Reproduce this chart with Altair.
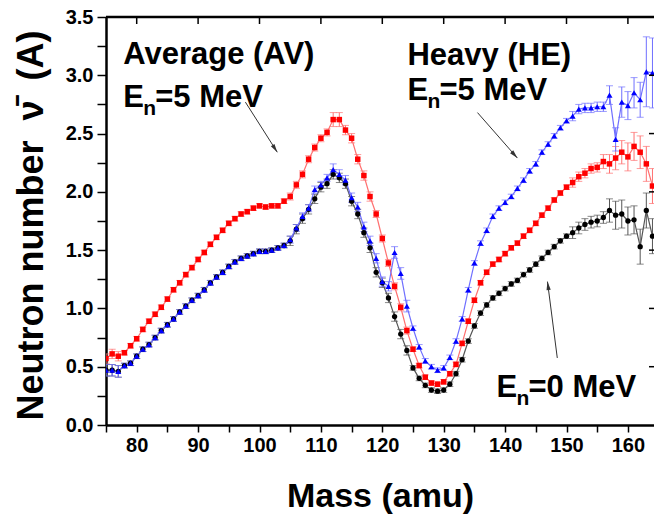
import altair as alt
import pandas as pd

# ---------------- data ----------------
MASS = list(range(75, 165))

RED_AV = [0.57, 0.61, 0.59, 0.62, 0.68, 0.74, 0.82, 0.89, 0.95, 1.01,
          1.08, 1.16, 1.22, 1.29, 1.35, 1.42, 1.48, 1.55, 1.61, 1.67,
          1.73, 1.77, 1.81, 1.83, 1.86, 1.88, 1.87, 1.88, 1.88, 1.92,
          1.96, 2.06, 2.15, 2.28, 2.38, 2.46, 2.51, 2.62, 2.62, 2.53,
          2.46, 2.28, 2.14, 1.96, 1.81, 1.60, 1.39, 1.19, 1.01, 0.81,
          0.65, 0.51, 0.41, 0.36, 0.35, 0.37, 0.44, 0.52, 0.70, 0.89,
          1.07, 1.22, 1.31, 1.38, 1.42, 1.47, 1.52, 1.56, 1.62, 1.67,
          1.73, 1.80, 1.86, 1.93, 1.99, 2.04, 2.08, 2.13, 2.16, 2.20,
          2.21, 2.26, 2.24, 2.29, 2.34, 2.30, 2.39, 2.34, 2.24, 2.05]
RED_ERR = [0.04, 0.04, 0.04, 0.02, 0.02, 0.02, 0.02, 0.02, 0.02, 0.02,
           0.02, 0.02, 0.02, 0.02, 0.02, 0.02, 0.02, 0.02, 0.02, 0.02,
           0.02, 0.02, 0.02, 0.02, 0.02, 0.02, 0.02, 0.02, 0.02, 0.02,
           0.03, 0.03, 0.03, 0.03, 0.03, 0.03, 0.03, 0.06, 0.06, 0.04,
           0.04, 0.04, 0.04, 0.04, 0.03, 0.03, 0.03, 0.03, 0.03, 0.03,
           0.02, 0.02, 0.02, 0.02, 0.02, 0.02, 0.02, 0.02, 0.02, 0.02,
           0.02, 0.02, 0.02, 0.02, 0.02, 0.02, 0.02, 0.02, 0.02, 0.02,
           0.02, 0.02, 0.02, 0.02, 0.02, 0.02, 0.04, 0.04, 0.04, 0.04,
           0.04, 0.06, 0.08, 0.10, 0.10, 0.12, 0.12, 0.14, 0.15, 0.15]

BLUE_HE = [0.47, 0.47, 0.46, 0.51, 0.53, 0.59, 0.65, 0.69, 0.75, 0.81,
           0.86, 0.91, 0.97, 1.02, 1.07, 1.11, 1.16, 1.22, 1.27, 1.31,
           1.36, 1.40, 1.43, 1.45, 1.47, 1.49, 1.49, 1.50, 1.52, 1.54,
           1.59, 1.69, 1.79, 1.86, 2.02, 2.06, 2.12, 2.19, 2.15, 2.10,
           1.95, 1.87, 1.70, 1.58, 1.43, 1.23, 1.19, 1.48, 1.30, 1.02,
           0.83, 0.67, 0.55, 0.50, 0.47, 0.49, 0.58, 0.72, 0.91, 1.16,
           1.39, 1.56, 1.67, 1.79, 1.86, 1.91, 1.96, 2.03, 2.10, 2.18,
           2.24, 2.34, 2.41, 2.48, 2.55, 2.61, 2.65, 2.71, 2.72, 2.72,
           2.73, 2.73, 2.83, 2.45, 2.77, 2.74, 2.85, 2.79, 3.03, 3.02]
BLUE_ERR = [0.05, 0.05, 0.05, 0.02, 0.02, 0.02, 0.02, 0.02, 0.02, 0.02,
            0.02, 0.02, 0.02, 0.02, 0.02, 0.02, 0.02, 0.02, 0.02, 0.02,
            0.02, 0.02, 0.02, 0.02, 0.02, 0.02, 0.02, 0.02, 0.02, 0.02,
            0.03, 0.03, 0.03, 0.03, 0.03, 0.03, 0.03, 0.05, 0.04, 0.04,
            0.04, 0.04, 0.04, 0.04, 0.04, 0.04, 0.04, 0.05, 0.05, 0.05,
            0.02, 0.02, 0.02, 0.02, 0.02, 0.02, 0.02, 0.02, 0.02, 0.02,
            0.02, 0.02, 0.02, 0.02, 0.02, 0.02, 0.02, 0.02, 0.02, 0.02,
            0.02, 0.02, 0.02, 0.02, 0.02, 0.02, 0.04, 0.04, 0.04, 0.04,
            0.04, 0.04, 0.08, 0.10, 0.13, 0.12, 0.13, 0.15, 0.30, 0.30]

BLACK_E0 = [0.47, 0.47, 0.46, 0.51, 0.53, 0.59, 0.65, 0.69, 0.75, 0.81,
            0.86, 0.91, 0.97, 1.02, 1.07, 1.11, 1.16, 1.22, 1.27, 1.31,
            1.36, 1.40, 1.43, 1.45, 1.47, 1.49, 1.49, 1.50, 1.52, 1.54,
            1.58, 1.68, 1.77, 1.85, 1.94, 2.04, 2.07, 2.15, 2.12, 2.07,
            1.92, 1.81, 1.65, 1.52, 1.31, 1.22, 1.09, 0.93, 0.78, 0.64,
            0.49, 0.40, 0.34, 0.30, 0.29, 0.30, 0.35, 0.44, 0.56, 0.72,
            0.85, 0.96, 1.03, 1.09, 1.13, 1.17, 1.21, 1.24, 1.29, 1.33,
            1.38, 1.43, 1.48, 1.53, 1.58, 1.62, 1.65, 1.69, 1.72, 1.74,
            1.75, 1.78, 1.84, 1.80, 1.81, 1.75, 1.76, 1.53, 1.84, 1.62]
BLACK_ERR = [0.05, 0.05, 0.05, 0.02, 0.02, 0.02, 0.02, 0.02, 0.02, 0.02,
             0.02, 0.02, 0.02, 0.02, 0.02, 0.02, 0.02, 0.02, 0.02, 0.02,
             0.02, 0.02, 0.02, 0.02, 0.02, 0.02, 0.02, 0.02, 0.02, 0.02,
             0.04, 0.04, 0.04, 0.04, 0.04, 0.04, 0.04, 0.04, 0.04, 0.04,
             0.04, 0.04, 0.04, 0.04, 0.04, 0.04, 0.04, 0.04, 0.04, 0.04,
             0.02, 0.02, 0.02, 0.02, 0.02, 0.02, 0.02, 0.02, 0.02, 0.02,
             0.02, 0.02, 0.02, 0.02, 0.02, 0.02, 0.02, 0.02, 0.02, 0.02,
             0.02, 0.02, 0.02, 0.02, 0.02, 0.02, 0.05, 0.05, 0.05, 0.05,
             0.05, 0.05, 0.10, 0.12, 0.12, 0.12, 0.12, 0.15, 0.15, 0.15]

X_TICKS = [75, 80, 85, 90, 95, 100, 105, 110, 115, 120, 125, 130, 135,
           140, 145, 150, 155, 160, 165]
X_MAJOR = [80, 90, 100, 110, 120, 130, 140, 150, 160]
Y_TICKS = [0.0, 0.25, 0.5, 0.75, 1.0, 1.25, 1.5, 1.75, 2.0, 2.25, 2.5,
           2.75, 3.0, 3.25, 3.5]
Y_MAJOR = [0.5, 1.0, 1.5, 2.0, 2.5, 3.0]

# annotations (data coordinates)
HEAD_TEXT = ["Average (AV)", "Heavy (HE)"]
HEAD_X = [77.8, 124.1]
HEAD_Y = [3.10, 3.09]
EN_X = [77.8, 124.1, 138.6]
EN_Y = [2.73, 2.79, 0.24]
EN_REST = ["=5 MeV", "=5 MeV", "=0 MeV"]
ARROW_X1 = [97.7, 135.5, 148.5]
ARROW_Y1 = [2.77, 2.68, 0.575]
ARROW_X2 = [102.9, 142.0, 146.9]
ARROW_Y2 = [2.34, 2.29, 1.23]
ARROW_ANGLE = [147, 138, 352]

# ---------------- chart ----------------
W, H = 548, 408
FONT = "Liberation Sans"
XS = alt.Scale(domain=[75, 164.25], nice=False, zero=False)
YS = alt.Scale(domain=[0, 3.5], nice=False, zero=True)

x_axis = alt.Axis(values=X_TICKS,
                  labelExpr="datum.value % 10 === 0 ? format(datum.value, 'd') : ''",
                  tickSize=7, tickWidth=1.5, domainWidth=2.5, grid=False,
                  labelFont=FONT, labelFontSize=20, labelFontWeight="bold",
                  labelPadding=3, labelOverlap=False, labelFlush=False,
                  title="Mass (amu)", titleFont=FONT, titleFontSize=34,
                  titleFontWeight="bold", titleX=W / 2, titleY=81,
                  titleBaseline="alphabetic", titleAlign="center")
y_axis = alt.Axis(values=Y_TICKS,
                  labelExpr="datum.value % 0.5 === 0 ? format(datum.value, '.1f') : ''",
                  tickSize=9, tickWidth=1.5, domainWidth=2.5, grid=False,
                  labelFont=FONT, labelFontSize=20, labelFontWeight="bold",
                  labelPadding=4, labelOverlap=False, labelFlush=False,
                  title="Neutron number\u00a0\u00a0\u03bd\u0304\u00a0\u00a0(A)",
                  titleFont=FONT,
                  titleFontSize=36, titleFontWeight="bold", titleAngle=270,
                  titleX=-64, titleY=H / 2 + 4, titleBaseline="alphabetic",
                  titleAlign="center")


def X(field="mass"):
    return alt.X(f"{field}:Q", scale=XS, axis=x_axis)


def Y(field="v"):
    return alt.Y(f"{field}:Q", scale=YS, axis=y_axis)


series = [
    ("E0", BLACK_E0, BLACK_ERR, "#000000", "#555555", "circle", 28),
    ("AV", RED_AV, RED_ERR, "#ff0000", "#ff7070", "square", 30),
    ("HE", BLUE_HE, BLUE_ERR, "#0000ff", "#6f6fff", "triangle-up", 36),
]

layers = []
for name, vals, errs, col, light, shape, size in series:
    df = pd.DataFrame({"mass": MASS, "v": vals, "err": errs})
    df["lo"] = df["v"] - df["err"]
    df["hi"] = df["v"] + df["err"]
    base = alt.Chart(df)
    layers.append(base.mark_rule(color=light, strokeWidth=1, clip=True).encode(
        x=X(), y=Y("lo"), y2="hi:Q"))
    layers.append(base.mark_tick(color=light, orient="horizontal", size=7,
                                 thickness=1, clip=True).encode(x=X(), y=Y("lo")))
    layers.append(base.mark_tick(color=light, orient="horizontal", size=7,
                                 thickness=1, clip=True).encode(x=X(), y=Y("hi")))
    layers.append(base.mark_line(color=light, strokeWidth=1.2, clip=True).encode(
        x=X(), y=Y()))

for name, vals, errs, col, light, shape, size in series:
    df = pd.DataFrame({"mass": MASS, "v": vals})
    layers.append(alt.Chart(df).mark_point(filled=True, shape=shape, size=size,
                                           color=col, opacity=1, clip=True).encode(
        x=X(), y=Y()))

# frame: top line, top ticks (inward), right ticks (inward)
one = pd.DataFrame({"k": [0]})
layers.append(alt.Chart(one).mark_rule(color="black", strokeWidth=2.5).encode(
    x=alt.value(0), x2=alt.value(W), y=alt.value(0)))
layers.append(alt.Chart(pd.DataFrame({"mass": X_MAJOR})).mark_rule(
    color="black", strokeWidth=1.5).encode(x=X(), y=alt.value(0), y2=alt.value(7)))
layers.append(alt.Chart(pd.DataFrame({"v": Y_MAJOR})).mark_rule(
    color="black", strokeWidth=1.5).encode(y=Y(), x=alt.value(W - 5), x2=alt.value(W)))

# arrows
arr = pd.DataFrame({"mass": ARROW_X1, "v": ARROW_Y1, "mass2": ARROW_X2,
                    "v2": ARROW_Y2, "ang": ARROW_ANGLE})
layers.append(alt.Chart(arr).mark_rule(color="#333333", strokeWidth=1).encode(
    x=X(), y=Y(), x2="mass2:Q", y2="v2:Q"))
layers.append(alt.Chart(arr).mark_point(
    shape="M0,0L-0.45,1.8L0.45,1.8Z", filled=True, size=90, color="#333333",
    opacity=1).encode(x=X("mass2"), y=Y("v2"), angle=alt.Angle("ang:Q", scale=None)))

# annotation texts
heads = pd.DataFrame({"mass": HEAD_X, "v": HEAD_Y, "t": HEAD_TEXT})
layers.append(alt.Chart(heads).mark_text(
    align="left", baseline="alphabetic", font=FONT, fontSize=31,
    fontWeight="bold", color="black").encode(x=X(), y=Y(), text="t:N"))
ens = pd.DataFrame({"mass": EN_X, "v": EN_Y, "r": EN_REST,
                    "e": ["E"] * 3, "n": ["n"] * 3})
layers.append(alt.Chart(ens).mark_text(
    align="left", baseline="alphabetic", font=FONT, fontSize=31,
    fontWeight="bold", color="black").encode(x=X(), y=Y(), text="e:N"))
layers.append(alt.Chart(ens).mark_text(
    align="left", baseline="alphabetic", font=FONT, fontSize=21, dx=20, dy=8,
    fontWeight="bold", color="black").encode(x=X(), y=Y(), text="n:N"))
layers.append(alt.Chart(ens).mark_text(
    align="left", baseline="alphabetic", font=FONT, fontSize=31, dx=32,
    fontWeight="bold", color="black").encode(x=X(), y=Y(), text="r:N"))

chart = alt.layer(*layers).properties(
    width=W, height=H,
    padding={"left": 106, "top": 17, "right": 0, "bottom": 90},
    autosize=alt.AutoSizeParams(type="none"),
).configure_view(stroke=None).configure_axis(
    domainColor="black", tickColor="black", labelColor="black", titleColor="black")

chart.save("out.html", embed_options={"renderer": "svg", "actions": False})
